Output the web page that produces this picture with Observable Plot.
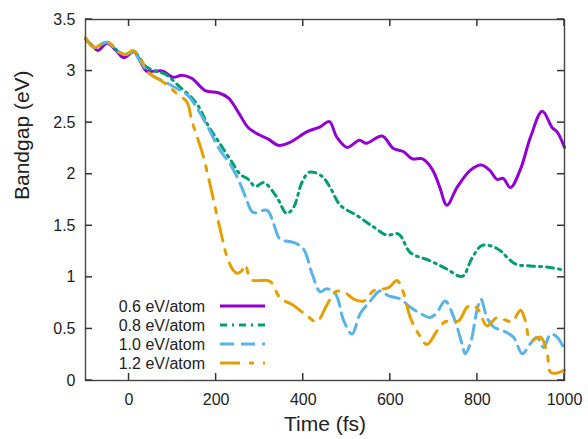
<!DOCTYPE html>
<html>
<head>
<meta charset="utf-8">
<script src="https://cdn.jsdelivr.net/npm/d3@7"></script>
<script src="https://cdn.jsdelivr.net/npm/@observablehq/plot@0.6"></script>
<style>
  html, body { margin: 0; padding: 0; background: #fff; }
  #chart { width: 588px; height: 439px; }
</style>
</head>
<body>
<div id="chart"></div>
<script>
const seriesNames = ["0.6 eV/atom", "0.8 eV/atom", "1.0 eV/atom", "1.2 eV/atom"];
const seriesColors = ["#9400D3", "#009E73", "#56B4E9", "#E69F00"];
const seriesDash = [null, "7,5,2,5", "14,7", "20,9,5,9"];

const xTicks = [0, 200, 400, 600, 800, 1000];
const yTicks = [0, 0.5, 1, 1.5, 2, 2.5, 3, 3.5];

const t06 = [-100,-85,-72,-50,-30,-12,12,25,40,60,78,101,121,144,175,205,228,251,274,300,320,343,370,408,439,460,477,501,529,545,581,607,630,650,673,696,713,730,753,784,809,830,845,859,876,899,922,949,972,983,1000];
const v06 = [3.31,3.25,3.20,3.27,3.20,3.13,3.19,3.10,3.00,3.00,3.00,2.94,2.96,2.93,2.81,2.79,2.74,2.60,2.45,2.38,2.34,2.28,2.31,2.41,2.46,2.51,2.36,2.26,2.33,2.30,2.37,2.25,2.22,2.15,2.15,2.05,1.88,1.70,1.87,2.04,2.09,2.03,1.95,1.96,1.87,2.05,2.36,2.61,2.45,2.41,2.26];

const t08 = [-100,-80,-50,-25,-8,10,25,40,60,83,121,140,159,182,205,236,255,274,290,309,339,362,378,397,414,443,462,485,523,561,592,619,646,692,730,765,788,811,845,887,922,960,1000];
const v08 = [3.32,3.23,3.28,3.19,3.16,3.19,3.12,3.04,3.00,2.97,2.83,2.76,2.66,2.47,2.32,2.12,2.00,1.95,1.88,1.92,1.78,1.62,1.68,1.92,2.02,1.98,1.87,1.70,1.60,1.49,1.41,1.42,1.24,1.16,1.08,1.01,1.19,1.31,1.28,1.13,1.11,1.10,1.07];

const t10 = [-100,-80,-50,-25,-8,10,25,48,75,106,136,159,182,205,236,259,270,285,317,332,347,377,400,420,439,454,474,493,512,531,554,577,596,623,646,669,692,707,726,746,765,772,784,799,808,822,837,860,883,903,922,937,952,968,983,1000];
const v10 = [3.32,3.23,3.28,3.19,3.16,3.18,3.10,2.97,2.91,2.84,2.76,2.62,2.45,2.26,2.07,1.87,1.75,1.63,1.65,1.52,1.37,1.34,1.28,1.04,0.86,0.89,0.84,0.58,0.45,0.65,0.77,0.87,0.82,0.79,0.71,0.65,0.61,0.66,0.77,0.61,0.35,0.26,0.36,0.68,0.79,0.61,0.52,0.48,0.42,0.26,0.36,0.42,0.32,0.45,0.42,0.30];

const t12 = [-100,-80,-50,-25,-8,9,25,44,83,110,133,144,159,170,186,194,209,225,239,248,258,267,275,285,300,324,347,377,408,431,454,474,493,516,539,562,596,615,627,646,665,684,707,726,757,776,791,803,822,845,868,880,899,910,922,945,960,968,980,1000];
const v12 = [3.32,3.23,3.28,3.19,3.16,3.20,3.13,2.99,2.88,2.78,2.70,2.52,2.33,2.18,1.90,1.75,1.47,1.20,1.07,1.04,1.06,1.12,1.02,0.97,0.97,0.96,0.80,0.73,0.63,0.57,0.73,0.86,0.86,0.79,0.77,0.87,0.90,0.97,0.89,0.61,0.45,0.35,0.48,0.57,0.58,0.71,0.73,0.68,0.53,0.61,0.58,0.57,0.68,0.58,0.39,0.42,0.26,0.08,0.07,0.10];

const times = [t06, t08, t10, t12];
const values = [v06, v08, v10, v12];

const rows = [];
seriesNames.forEach((name, i) => {
  times[i].forEach((t, j) => rows.push({series: name, time: t, gap: values[i][j]}));
});

const font = "'Liberation Sans', Arial, Helvetica, sans-serif";
const W = 588, H = 439;
const mL = 85, mR = 24, mT = 19, mB = 59;
const tick = 7;

const lineMarks = seriesNames.map((name, i) =>
  Plot.line(rows.filter(d => d.series === name), {
    x: "time", y: "gap", stroke: seriesColors[i], strokeWidth: 3,
    strokeDasharray: seriesDash[i], curve: "catmull-rom"
  })
);

const chart = Plot.plot({
  width: W, height: H,
  marginLeft: mL, marginRight: mR, marginTop: mT, marginBottom: mB,
  style: {fontFamily: font, fontSize: "16px", color: "#222", background: "#fff"},
  x: {domain: [-100, 1000]},
  y: {domain: [0, 3.5]},
  marks: [
    ...lineMarks,
    Plot.frame({stroke: "#444", strokeWidth: 1.4}),
    Plot.axisX(xTicks, {anchor: "bottom", tickSize: 0, tickPadding: 13, label: null, fontSize: 16, fill: "#222", tickFormat: d => String(d)}),
    Plot.axisY(yTicks, {anchor: "left", tickSize: 0, tickPadding: 10, label: null, fontSize: 16, fill: "#222", tickFormat: d => String(d)}),
    Plot.text(["Time (fs)"], {frameAnchor: "bottom", dy: 50, fontSize: 21, fill: "#222"}),
    Plot.text(["Bandgap (eV)"], {frameAnchor: "left", dx: -63, rotate: -90, fontSize: 21, fill: "#222"})
  ]
});

const svg = d3.select(chart);
const sx = chart.scale("x"), sy = chart.scale("y");
const x0 = mL, x1 = W - mR, y0 = mT, y1 = H - mB;

// inward ticks on all four sides, placed with Plot's own scales
const tg = svg.append("g").attr("stroke", "#333").attr("stroke-width", 1.5);
xTicks.forEach(v => {
  const px = sx.apply(v);
  tg.append("line").attr("x1", px).attr("x2", px).attr("y1", y1).attr("y2", y1 - tick);
  tg.append("line").attr("x1", px).attr("x2", px).attr("y1", y0).attr("y2", y0 + tick);
});
yTicks.forEach(v => {
  const py = sy.apply(v);
  tg.append("line").attr("y1", py).attr("y2", py).attr("x1", x0).attr("x2", x0 + tick);
  tg.append("line").attr("y1", py).attr("y2", py).attr("x1", x1).attr("x2", x1 - tick);
});

// Legend (inside plot, lower left)
const legendRowsY = [306, 325, 344, 363];
const lg = svg.append("g").attr("font-family", font).attr("font-size", 16).attr("fill", "#222");
seriesNames.forEach((name, i) => {
  lg.append("text").attr("x", 205).attr("y", legendRowsY[i]).attr("dy", "0.35em")
    .attr("text-anchor", "end").text(name);
  lg.append("line").attr("x1", 220).attr("x2", 265)
    .attr("y1", legendRowsY[i]).attr("y2", legendRowsY[i])
    .attr("stroke", seriesColors[i]).attr("stroke-width", 3)
    .attr("stroke-dasharray", seriesDash[i]);
});

document.getElementById("chart").appendChild(chart);
</script>
</body>
</html>
